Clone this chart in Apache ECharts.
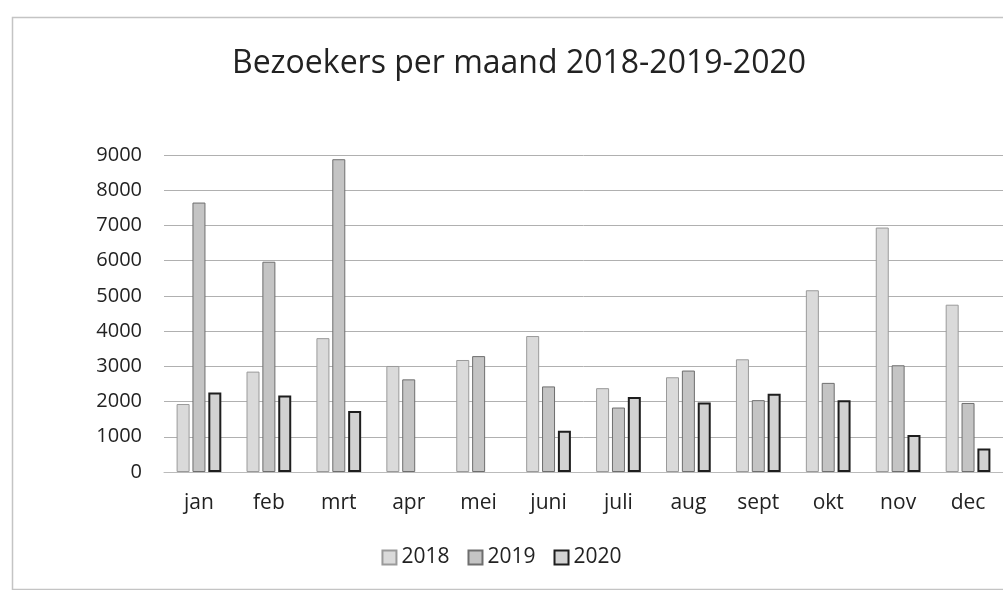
<!DOCTYPE html>
<html>
<head>
<meta charset="utf-8">
<script src="https://cdn.jsdelivr.net/npm/echarts@6/dist/echarts.min.js"></script>
<style>
html,body{margin:0;padding:0;background:#fff;}
#chart{width:1003px;height:590px;}
</style>
</head>
<body>
<div id="chart"></div>
<script>
const months = ['jan','feb','mrt','apr','mei','juni','juli','aug','sept','okt','nov','dec'];
const v2018 = [1930, 2850, 3800, 3010, 3180, 3860, 2380, 2690, 3200, 5160, 6940, 4750];
const v2019 = [7650, 5970, 8880, 2630, 3290, 2430, 1830, 2880, 2040, 2530, 3030, 1960];
const v2020 = [2260, 2170, 1730, null, null, 1170, 2130, 1970, 2220, 2040, 1050, 670];
const yTicks = [0, 1000, 2000, 3000, 4000, 5000, 6000, 7000, 8000, 9000];

const font = '"Open Sans", "Liberation Sans", sans-serif';
const chart = echarts.init(document.getElementById('chart'));
chart.setOption({
  backgroundColor: '#fff',
  animation: false,
  title: {
    text: 'Bezoekers per maand 2018-2019-2020',
    left: 514, top: 43, textAlign: 'center',
    textStyle: { fontFamily: font, fontSize: 32, fontWeight: 'normal', color: '#222' }
  },
  graphic: [{
    type: 'rect', left: 10, top: 15,
    shape: { width: 1010, height: 572 },
    style: { fill: 'none', stroke: '#c4c4c4', lineWidth: 1.5 }
  }],
  legend: {
    bottom: 17, left: 'center', icon: 'rect',
    itemWidth: 14, itemHeight: 14, itemGap: 18,
    textStyle: { fontFamily: font, fontSize: 21, color: '#222' },
    data: ['2018', '2019', '2020']
  },
  grid: { left: 164, width: 840, top: 155, height: 317 },
  xAxis: {
    type: 'category', data: months,
    axisLine: { show: true, lineStyle: { color: '#bbb' } },
    axisTick: { show: false },
    axisLabel: { fontFamily: font, fontSize: 21, color: '#222', margin: 21 }
  },
  yAxis: {
    type: 'value', min: yTicks[0], max: yTicks[yTicks.length - 1], interval: 1000,
    axisLine: { show: false }, axisTick: { show: false },
    axisLabel: { fontFamily: font, fontSize: 20, color: '#222', margin: 22,
      formatter: function (v) { return String(v); } },
    splitLine: { lineStyle: { color: '#b0b0b0', width: 1 } }
  },
  series: [
    { name: '2018', type: 'bar', data: v2018, barWidth: 13, barGap: '22%',
      itemStyle: { color: '#dadada', borderColor: '#9a9a9a', borderWidth: 1 } },
    { name: '2019', type: 'bar', data: v2019, barWidth: 13, barGap: '22%',
      itemStyle: { color: '#c4c4c4', borderColor: '#6e6e6e', borderWidth: 1 } },
    { name: '2020', type: 'bar', data: v2020, barWidth: 13, barGap: '22%',
      itemStyle: { color: '#d2d2d2', borderColor: '#1e1e1e', borderWidth: 2 } }
  ]
});
</script>
</body>
</html>
